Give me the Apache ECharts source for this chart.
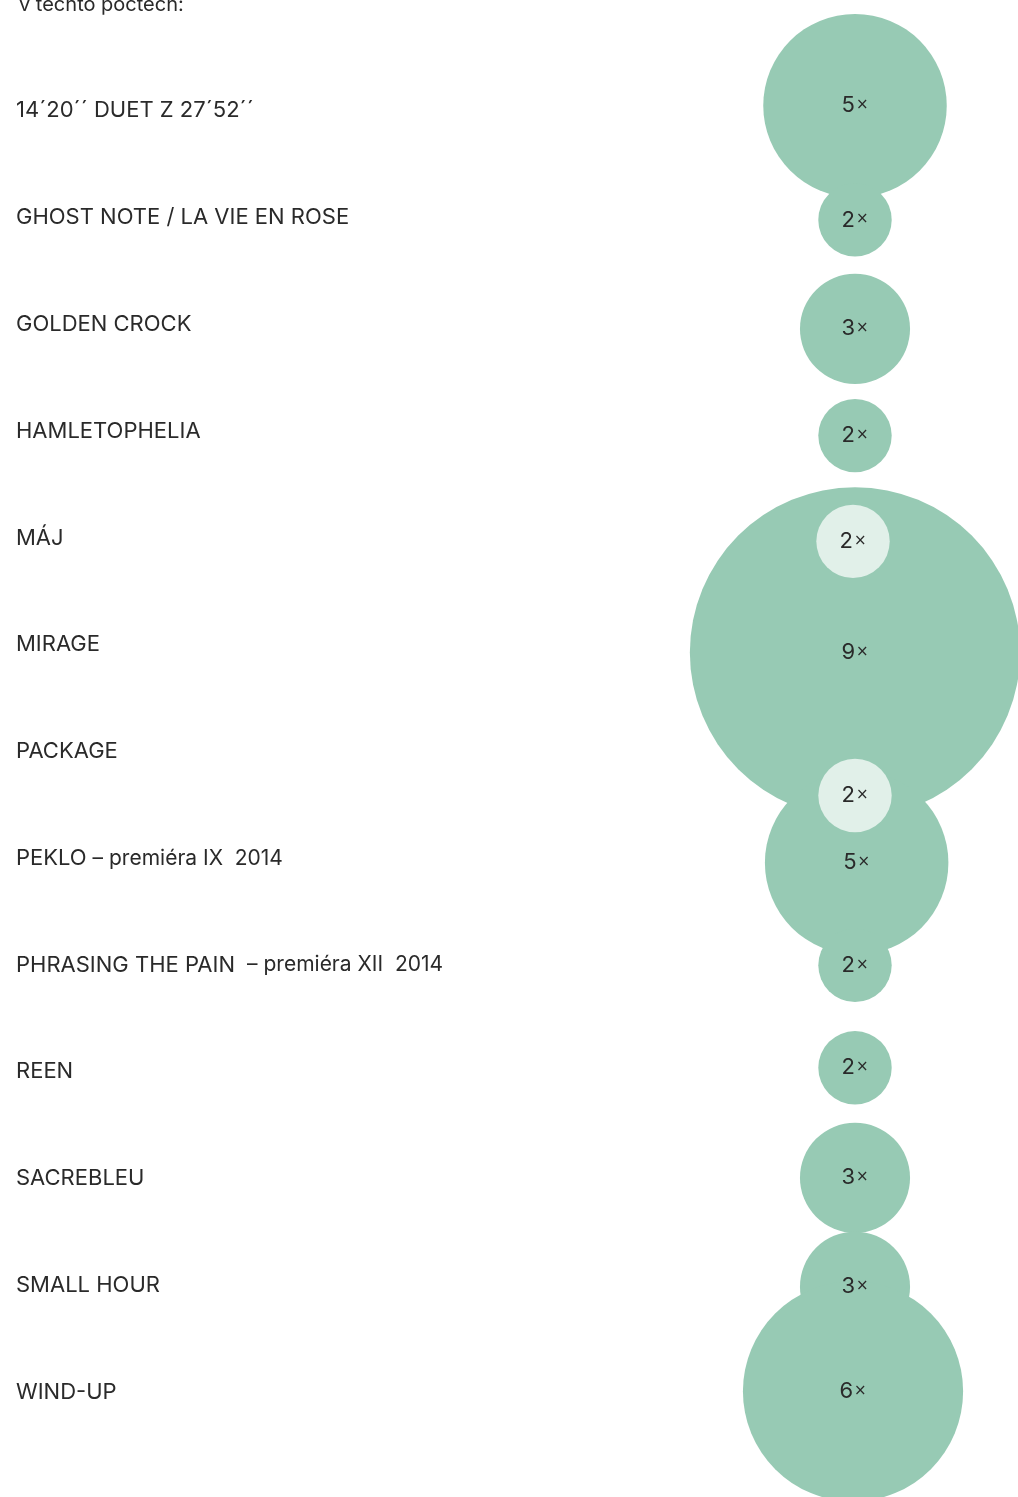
<!DOCTYPE html>
<html>
<head>
<meta charset="utf-8">
<script src="https://cdn.jsdelivr.net/npm/echarts@6/dist/echarts.min.js"></script>
<style>
  html, body { margin: 0; padding: 0; background: #fff; }
  #chart { width: 1018px; height: 1497px; }
</style>
</head>
<body>
<div id="chart"></div>
<script>
// row labels: [main part, small suffix]
const titles = [
  ["14´20´´ DUET Z 27´52´´", ""],
  ["GHOST NOTE / LA VIE EN ROSE", ""],
  ["GOLDEN CROCK", ""],
  ["HAMLETOPHELIA", ""],
  ["MÁJ", ""],
  ["MIRAGE", ""],
  ["PACKAGE", ""],
  ["PEKLO", " – premiéra IX  2014"],
  ["PHRASING THE PAIN ", " – premiéra XII  2014"],
  ["REEN", ""],
  ["SACREBLEU", ""],
  ["SMALL HOUR", ""],
  ["WIND-UP", ""]
];
// how many times each was performed
const counts = [5, 2, 3, 2, 2, 9, 2, 5, 2, 2, 3, 3, 6];
// vertical position of each bubble, in row units
const bubbleRows = [-0.02, 1.05, 2.07, 3.07, 4.06, 5.1, 6.44, 7.07, 8.03, 8.99, 10.02, 11.04, 12.02];
const bubbleX = [0, 0, 0, 0, -0.012, 0, 0, 0.01, 0, 0, 0, 0, -0.012];
// bubbles drawn in the pale colour
const pale = [false, false, false, false, true, false, true, false, false, false, false, false, false];

const chart = echarts.init(document.getElementById("chart"));

const unit = 36.7; // px of diameter per performance
const darkData = [];
const paleData = [];
counts.forEach((c, i) => {
  const item = { value: [bubbleX[i], bubbleRows[i], c] };
  if (pale[i]) paleData.push(item); else darkData.push(item);
});

const bubbleLabel = {
  show: true,
  position: "inside",
  formatter: p => "{n|" + p.value[2] + "}{x|×}",
  rich: {
    n: { fontFamily: "Inter", fontSize: 22, color: "#2a2a2a" },
    x: { fontFamily: "DejaVu Sans", fontSize: 15, color: "#2a2a2a", padding: [0, 0, 1, 1] }
  }
};

const option = {
  animation: false,
  backgroundColor: "#fff",
  title: {
    text: "v těchto počtech:",
    left: 14,
    top: -10,
    textStyle: { fontFamily: "Inter", fontSize: 20, fontWeight: "normal", color: "#2a2a2a" }
  },
  grid: {
    left: 690,
    width: 330,
    top: 1,
    bottom: 1,
    containLabel: false,
    outerBoundsMode: "none"
  },
  xAxis: {
    type: "value",
    min: -1,
    max: 1,
    show: false
  },
  yAxis: {
    type: "value",
    inverse: true,
    min: -1,
    max: 13,
    interval: 1,
    axisLine: { show: false },
    axisTick: { show: false },
    splitLine: { show: false },
    axisLabel: {
      show: true,
      align: "left",
      margin: 674,
      padding: [6, 0, 0, 0],
      formatter: v => {
        const t = titles[v];
        if (!t) return "";
        return "{a|" + t[0] + "}" + (t[1] ? "{b|" + t[1] + "}" : "");
      },
      rich: {
        a: { fontFamily: "Inter", fontSize: 22, color: "#2a2a2a" },
        b: { fontFamily: "Inter", fontSize: 21, color: "#2a2a2a" }
      }
    }
  },
  series: [
    {
      type: "scatter",
      data: darkData,
      symbol: "circle",
      symbolSize: v => v[2] * unit,
      itemStyle: { color: "#97cab4", opacity: 1 },
      label: bubbleLabel,
      z: 2
    },
    {
      type: "scatter",
      data: paleData,
      symbol: "circle",
      symbolSize: v => v[2] * unit,
      itemStyle: { color: "#e1f0e9", opacity: 1 },
      label: bubbleLabel,
      z: 3
    }
  ]
};

chart.setOption(option);
</script>
</body>
</html>
